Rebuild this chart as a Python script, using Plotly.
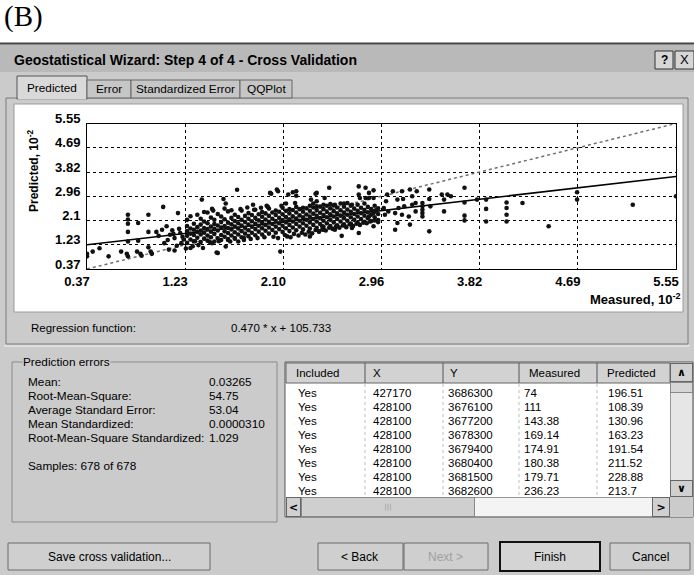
import plotly.graph_objects as go

# ---------------- chart values (axes are in units of 10^2, labelled "10-2") ----------------
tick_values = [0.37, 1.2333, 2.0967, 2.96, 3.8233, 4.6867, 5.55]
x_tick_labels = ["0.37", "1.23", "2.10", "2.96", "3.82", "4.69", "5.55"]
y_tick_labels = ["0.37", "1.23", "2.1", "2.96", "3.82", "4.69", "5.55"]
axis_range = [0.37, 5.55]

reg_slope = 0.470
reg_intercept = 105.733  # measured units (x 10^-2 on the axes)

# sparse points at the low end (Measured, Predicted)
low_points = [
    (0.37, 0.91), (0.37, 0.82), (0.42, 0.99), (0.48, 1.11), (0.56, 0.82),
    (0.67, 0.99), (0.72, 0.91), (0.73, 0.82), (0.73, 2.30), (0.73, 2.13),
    (0.73, 1.98), (0.73, 1.69), (0.73, 1.35), (0.81, 0.99), (0.84, 0.91),
    (0.85, 0.84), (0.82, 2.01), (0.82, 1.38), (0.91, 2.30), (0.91, 1.69),
    (0.91, 1.14), (0.93, 0.99), (0.94, 0.91), (0.98, 1.69), (1.00, 1.55),
    (1.03, 1.77), (1.04, 2.58), (1.05, 1.29), (1.07, 1.89), (1.09, 1.06),
    (1.10, 1.59), (1.12, 1.75), (1.14, 1.47), (1.14, 1.03), (1.17, 2.36),
    (1.19, 1.65), (1.20, 1.29), (1.16, 1.20), (1.18, 1.80), (1.21, 1.52),
    (1.22, 1.42), (1.13, 1.62), (1.08, 1.40),
]

# dense cloud: (Measured, [Predicted values])
cloud_columns = [
    (1.25, [1.30, 1.55, 1.72, 1.90, 2.12]),
    (1.28, [1.42, 1.63, 1.81, 2.25]),
    (1.31, [1.36, 1.58, 1.77, 1.98]),
    (1.34, [1.48, 1.69, 1.86, 2.30]),
    (1.37, [1.33, 1.60, 1.74, 1.95, 2.16]),
    (1.40, [1.45, 1.66, 1.83, 2.06]),
    (1.43, [1.38, 1.56, 1.79, 2.00, 2.38]),
    (1.46, [1.50, 1.70, 1.88, 2.20]),
    (1.49, [1.35, 1.62, 1.80, 1.97, 2.12]),
    (1.52, [1.46, 1.74, 1.92, 2.33]),
    (1.55, [1.40, 1.58, 1.85, 2.04, 2.24]),
    (1.58, [1.52, 1.71, 1.90, 2.14]),
    (1.61, [1.44, 1.65, 1.83, 2.02, 2.42]),
    (1.64, [1.56, 1.78, 1.96, 2.19]),
    (1.67, [1.47, 1.68, 1.88, 2.08, 2.30]),
    (1.70, [1.60, 1.81, 2.00, 2.22]),
    (1.73, [1.50, 1.72, 1.92, 2.12, 2.45]),
    (1.76, [1.63, 1.84, 2.04, 2.26]),
    (1.79, [1.54, 1.75, 1.95, 2.16, 2.36]),
    (1.82, [1.66, 1.88, 2.07, 2.29]),
    (1.85, [1.57, 1.79, 1.98, 2.19, 2.48]),
    (1.88, [1.70, 1.91, 2.10, 2.32]),
    (1.91, [1.60, 1.82, 2.02, 2.23, 2.40]),
    (1.94, [1.73, 1.94, 2.13, 2.35]),
    (1.97, [1.63, 1.85, 2.05, 2.26, 2.52]),
    (2.00, [1.76, 1.97, 2.16, 2.38]),
    (2.03, [1.66, 1.88, 2.08, 2.29, 2.45]),
    (2.06, [1.79, 2.00, 2.19, 2.41]),
    (2.09, [1.69, 1.91, 2.11, 2.32, 2.55]),
    (2.12, [1.82, 2.03, 2.22, 2.44]),
    (2.15, [1.72, 1.94, 2.14, 2.35, 2.50]),
    (2.18, [1.85, 2.06, 2.25, 2.47]),
    (2.21, [1.75, 1.97, 2.17, 2.38, 2.58]),
    (2.24, [1.88, 2.09, 2.28, 2.50]),
    (2.27, [1.78, 2.00, 2.20, 2.41, 2.55]),
    (2.30, [1.91, 2.12, 2.31, 2.53]),
    (2.33, [1.81, 2.03, 2.23, 2.44, 2.62]),
    (2.36, [1.94, 2.15, 2.34, 2.56]),
    (2.39, [1.84, 2.06, 2.26, 2.47, 2.60]),
    (2.42, [1.97, 2.18, 2.37, 2.59]),
    (2.45, [1.87, 2.09, 2.29, 2.50, 2.66]),
    (2.48, [2.00, 2.21, 2.40, 2.62]),
    (2.51, [1.90, 2.12, 2.32, 2.53, 2.68]),
    (2.54, [2.03, 2.24, 2.43, 2.64]),
    (2.57, [1.93, 2.15, 2.35, 2.56]),
    (2.60, [2.06, 2.27, 2.46, 2.70]),
    (2.63, [1.96, 2.18, 2.38, 2.59]),
    (2.66, [2.09, 2.30, 2.49, 2.72]),
    (2.69, [1.99, 2.21, 2.41, 2.62]),
    (2.72, [2.12, 2.33, 2.52]),
    (2.75, [2.02, 2.24, 2.44, 2.66]),
    (2.78, [2.15, 2.36, 2.55]),
    (2.81, [2.05, 2.27, 2.47, 2.70]),
    (2.84, [2.18, 2.39, 2.58]),
    (2.87, [2.08, 2.30, 2.50]),
    (2.90, [2.21, 2.42, 2.62]),
    (2.93, [2.11, 2.33, 2.53]),
]

# points at the fringes of the cloud (Measured, Predicted)
fringe_points = [
    (1.32, 1.36), (1.40, 2.40), (1.45, 1.33), (1.48, 2.45), (1.53, 1.36),
    (1.58, 2.52), (1.61, 1.40), (1.64, 2.46), (1.67, 1.45), (1.72, 2.50),
    (1.75, 1.40), (1.78, 2.56), (1.81, 1.44), (1.84, 2.48), (1.87, 1.47),
    (1.90, 2.55), (1.93, 1.50), (1.96, 2.58), (2.01, 1.52), (2.05, 1.47),
    (2.08, 2.62), (2.11, 1.58), (2.16, 1.50), (2.19, 1.62), (2.23, 1.56),
    (2.26, 1.66), (2.29, 1.60), (2.32, 1.70), (2.35, 1.64), (2.38, 1.76),
    (2.41, 1.70), (2.44, 1.78), (2.47, 1.74), (2.50, 1.84), (2.53, 1.80),
    (2.56, 1.88), (2.59, 1.84), (2.62, 1.92), (2.65, 1.86), (2.68, 1.96),
    (2.71, 1.90), (2.74, 1.98), (2.77, 1.94), (2.80, 2.02), (2.83, 2.00),
    (2.86, 2.06), (2.90, 2.10), (2.93, 2.04),
    (1.69, 3.19), (1.99, 3.05), (2.05, 3.14), (2.04, 3.20), (1.98, 3.08),
    (2.14, 3.02), (2.18, 3.10), (2.21, 3.14), (2.21, 2.98), (2.38, 3.05),
    (2.50, 3.26), (1.57, 2.86), (1.59, 2.70), (1.38, 2.84), (1.83, 2.66),
    (1.47, 2.51), (1.95, 2.62), (2.12, 2.70), (2.20, 2.72), (2.34, 2.84),
    (2.36, 2.70), (2.39, 2.78), (2.46, 2.90), (2.39, 3.08), (2.55, 2.66),
    (2.63, 2.70), (2.70, 2.66),
    (1.52, 0.94), (1.59, 1.17), (1.51, 0.96), (1.39, 1.12), (1.47, 1.29),
    (1.63, 1.35), (1.70, 1.35), (1.75, 1.47), (2.07, 0.99), (2.13, 1.53),
    (2.33, 1.53), (1.28, 1.12), (1.24, 1.10), (1.30, 1.18), (1.35, 1.22),
    (2.41, 1.71), (2.45, 1.77), (2.55, 1.77), (2.44, 1.89), (2.57, 1.89),
    (2.61, 1.55), (2.76, 1.65), (2.70, 1.83), (2.89, 1.89),
]

# high-end points (Measured, Predicted)
high_points = [
    (2.76, 3.31), (2.82, 3.26), (2.89, 3.17), (2.76, 3.02), (2.85, 3.08),
    (2.77, 2.90), (2.82, 2.90), (2.85, 2.90), (2.89, 2.90), (2.85, 2.24),
    (2.89, 2.36), (2.91, 2.46),
    (2.98, 2.54), (2.99, 2.30), (3.00, 2.78), (3.01, 3.02), (3.02, 2.42),
    (3.06, 3.14), (3.08, 2.36), (3.08, 1.77), (3.10, 2.84), (3.10, 2.01),
    (3.11, 2.54), (3.14, 3.14), (3.14, 2.30), (3.15, 2.86), (3.16, 2.60),
    (3.20, 2.24), (3.21, 3.20), (3.21, 1.95), (3.23, 2.96), (3.23, 2.66),
    (3.26, 2.72), (3.26, 2.42), (3.27, 3.14), (3.32, 2.72), (3.32, 2.60),
    (3.32, 2.48), (3.32, 2.36), (3.32, 2.24), (3.38, 3.20), (3.38, 2.86),
    (3.39, 2.60), (3.38, 1.71), (3.49, 3.02), (3.54, 3.02), (3.57, 2.96),
    (3.51, 2.84), (3.51, 2.42), (3.69, 3.26), (3.69, 2.74), (3.69, 2.27),
    (3.69, 2.10), (3.80, 2.84), (3.88, 2.84), (3.88, 2.51), (3.88, 2.06),
    (4.06, 2.74), (4.06, 2.54), (4.06, 2.30), (4.06, 2.06), (4.20, 2.72),
    (4.43, 1.89), (4.68, 3.10), (4.68, 2.84), (5.17, 2.66), (5.55, 2.96),
]

# ---------------- dialog texts ----------------
title_text = "Geostatistical Wizard: Step 4 of 4 - Cross Validation"
tab_names = ["Predicted", "Error", "Standardized Error", "QQPlot"]
regression_label = "Regression function:"
regression_text = "0.470 * x + 105.733"
stat_labels = ["Mean:", "Root-Mean-Square:", "Average Standard Error:",
               "Mean Standardized:", "Root-Mean-Square Standardized:"]
stat_values = ["0.03265", "54.75", "53.04", "0.0000310", "1.029"]
samples_text = "Samples: 678 of 678"

table_headers = ["Included", "X", "Y", "Measured", "Predicted"]
col_included = ["Yes", "Yes", "Yes", "Yes", "Yes", "Yes", "Yes", "Yes"]
col_x = ["427170", "428100", "428100", "428100", "428100", "428100", "428100", "428100"]
col_y = ["3686300", "3676100", "3677200", "3678300", "3679400", "3680400", "3681500", "3682600"]
col_measured = ["74", "111", "143.38", "169.14", "174.91", "180.38", "179.71", "236.23"]
col_predicted = ["196.51", "108.39", "130.96", "163.23", "191.54", "211.52", "228.88", "213.7"]

button_labels = ["Save cross validation...", "< Back", "Next >", "Finish", "Cancel"]

# ---------------- build scatter series ----------------
measured = [p[0] for p in low_points]
predicted = [p[1] for p in low_points]
for mx, plist in cloud_columns:
    for pv in plist:
        measured.append(mx)
        predicted.append(pv)
for grp in (fringe_points, high_points):
    measured += [p[0] for p in grp]
    predicted += [p[1] for p in grp]

reg_x = axis_range
reg_y = [reg_slope * v + reg_intercept / 100.0 for v in reg_x]

# ---------------- layout helpers (pixel -> paper) ----------------
W, H = 694, 575
def PX(x):
    return x / W
def PY(y):
    return 1 - y / H

FONT = "Liberation Sans, Arial, sans-serif"
DLG = "#cbcbcb"
shapes = []
annotations = []

def rect(x0, y0, x1, y1, fill=None, line=None, lw=1, dash="solid", layer="below"):
    shapes.append(dict(type="rect", xref="paper", yref="paper",
                       x0=PX(x0), x1=PX(x1), y0=PY(y1), y1=PY(y0),
                       fillcolor=fill if fill else "rgba(0,0,0,0)",
                       line=dict(color=line if line else "rgba(0,0,0,0)",
                                 width=lw if line else 0, dash=dash),
                       layer=layer))

def hline(x0, x1, y, color, lw=1, dash="solid", layer="below"):
    shapes.append(dict(type="line", xref="paper", yref="paper",
                       x0=PX(x0), x1=PX(x1), y0=PY(y), y1=PY(y),
                       line=dict(color=color, width=lw, dash=dash), layer=layer))

def vline(x, y0, y1, color, lw=1, dash="solid", layer="below"):
    shapes.append(dict(type="line", xref="paper", yref="paper",
                       x0=PX(x), x1=PX(x), y0=PY(y0), y1=PY(y1),
                       line=dict(color=color, width=lw, dash=dash), layer=layer))

def text(x, y, s, size=11, anchor="left", color="black", bold=False, family=FONT,
         bg=None, angle=0):
    a = dict(xref="paper", yref="paper", x=PX(x), y=PY(y), xanchor=anchor,
             yanchor="middle", text=s, showarrow=False, textangle=angle,
             font=dict(family=family, size=size, color=color,
                       weight="bold" if bold else "normal"),
             borderpad=0)
    if bg:
        a["bgcolor"] = bg
    annotations.append(a)

def box(x0, y0, x1, y1, fill, border="#777", s="\u00a0", size=10, color="black"):
    annotations.append(dict(xref="paper", yref="paper", x=PX(x0), y=PY(y0),
                            xanchor="left", yanchor="top", width=x1 - x0 - 2,
                            height=y1 - y0 - 2, bgcolor=fill, bordercolor=border,
                            borderwidth=1, borderpad=0, text=s, showarrow=False,
                            align="center", valign="middle",
                            font=dict(family="DejaVu Sans, sans-serif", size=size, color=color)))

# ---------------- dialog chrome ----------------
rect(0, 43, 694, 575, fill=DLG)
hline(0, 694, 43.5, "#444", lw=2)
rect(0, 45, 694, 72, fill="#b9b9b9")
rect(655, 51, 673, 69, fill="#d6d6d6", line="#333")
rect(675, 51, 694, 69, fill="#d6d6d6", line="#333")
text(664, 60, "?", size=12, anchor="center", bold=True)
text(684.5, 60, "X", size=13, anchor="center")
text(13, 60, title_text, size=14, bold=True)

# tab page
rect(6, 98, 688, 344, fill=DLG, line="#7a7a7a")
hline(4, 690, 346, "#f2f2f2")
# tabs
tab_spans = [(17, 87), (87, 131), (131, 240), (240, 292)]
for i, ((a, b), name) in enumerate(zip(tab_spans, tab_names)):
    if i == 0:
        rect(a, 76, b, 99, fill="#d9d9d9", line="#555")
    else:
        rect(a, 80, b, 98, fill="#c6c6c6", line="#666")
    text((a + b) / 2, 88.5 if i == 0 else 89, name, size=11.8, anchor="center")
hline(18, 86, 98.5, "#d9d9d9", lw=2)

# chart white panel
rect(14, 104, 683, 312, fill="white", line="#9a9a9a")

text(30, 328, regression_label, size=11.5)
text(230, 328, regression_text, size=11.5)

# prediction errors group
rect(12, 362, 277, 522, line="#8a8a8a")
text(22, 362, "Prediction errors", size=11.8, bg=DLG)
stat_y = [382, 396, 410, 424, 438]
for yy, lab, val in zip(stat_y, stat_labels, stat_values):
    text(27, yy, lab, size=11.8)
    text(208, yy, val, size=11.8)
text(27, 466, samples_text, size=11.8)

# table
rect(285, 362, 693, 517, fill="white", line="#555")
rect(286, 363, 670, 383, fill="#d2d2d2", line="#666")
for xx in (365, 443, 519, 597):
    vline(xx, 363, 383, "#555")
    vline(xx, 384, 497, "#bdbdbd", dash="dot")
head_x = [295, 372, 449, 528, 606]
for hx, h in zip(head_x, table_headers):
    text(hx, 373, h, size=11.5)
row_y0, row_dy = 393, 14
cols = [col_included, col_x, col_y, col_measured, col_predicted]
col_x0 = [297, 372, 447, 523, 607]
for cx, col in zip(col_x0, cols):
    for r, v in enumerate(col):
        text(cx, row_y0 + r * row_dy, v, size=11.5)
# vertical scrollbar
box(670, 363, 693, 497, "#e6e6e6", border="#999")
box(670, 363, 693, 382, "#d0d0d0", border="#666", s="<b>∧</b>", size=11)
box(670, 382, 693, 393, "#d6d6d6", border="#888")
box(670, 480, 693, 497, "#d0d0d0", border="#666", s="<b>∨</b>", size=11)
# horizontal scrollbar (drawn over the partly hidden last row)
box(286, 497, 670, 517, "#f4f4f4", border="#999")
box(286, 497, 301, 517, "#d0d0d0", border="#666", s="<b>&lt;</b>", size=11)
box(301, 497, 475, 517, "#cfcfcf", border="#888", s="<span style='color:#999'>|||</span>", size=7)
box(652, 497, 670, 517, "#d0d0d0", border="#666", s="<b>&gt;</b>", size=11)
box(670, 497, 693, 517, DLG, border=DLG)

# buttons
btn_spans = [(8, 210), (318, 403), (404, 488), (500, 600), (610, 690)]
for (a, b), lab in zip(btn_spans, button_labels):
    if lab == "Finish":
        rect(a, 542, b, 571, fill="#d4d4d4", line="#111", lw=2)
    else:
        rect(a, 543, b, 570, fill="#cfcfcf", line="#6a6a6a")
    text((a + b) / 2, 556.5, lab, size=12, anchor="center",
         color="#a0a0a0" if lab == "Next >" else "black")

# "(B)" panel label
text(3, 16, "(B)", size=29, family="Liberation Serif, Times New Roman, serif")

# axis titles
text(33, 171, "Predicted, 10<sup>-2</sup>", size=12, anchor="center", bold=True, angle=-90)
text(681, 299, "Measured, 10<sup>-2</sup>", size=13, anchor="right", bold=True)

# ---------------- figure ----------------
fig = go.Figure()
fig.add_trace(go.Scatter(x=axis_range, y=axis_range, mode="lines",
                         line=dict(color="#6f6f6f", width=1.5, dash="dot"),
                         hoverinfo="skip", showlegend=False))
fig.add_trace(go.Scatter(x=reg_x, y=reg_y, mode="lines",
                         line=dict(color="black", width=1.6),
                         hoverinfo="skip", showlegend=False))
fig.add_trace(go.Scatter(x=measured, y=predicted, mode="markers",
                         marker=dict(color="#111111", size=4.6, line=dict(width=0)),
                         showlegend=False, name="Cross validation"))

axis_common = dict(range=axis_range, tickvals=tick_values, showgrid=True,
                   gridcolor="black", gridwidth=1, griddash="dot", zeroline=False,
                   showline=True, linecolor="black", linewidth=1, mirror=True,
                   automargin=False,
                   ticks="", tickfont=dict(family=FONT, size=13, color="black", weight="bold"))

fig.update_layout(
    width=W, height=H, autosize=False,
    margin=dict(l=0, r=0, t=0, b=0, pad=0, autoexpand=False),
    paper_bgcolor="white", plot_bgcolor="rgba(0,0,0,0)",
    xaxis=dict(domain=[PX(87), PX(676)], ticktext=x_tick_labels,
               ticklabelshift=-10, ticklabelstandoff=0, **axis_common),
    yaxis=dict(domain=[PY(269), PY(123.5)], ticktext=y_tick_labels,
               ticklabelshift=-5, ticklabelstandoff=3, **axis_common),
    shapes=shapes, annotations=annotations, showlegend=False,
)

fig.write_html("out.html", config={"displayModeBar": False},
               post_script="document.body.style.margin='0';document.body.style.padding='0';")
